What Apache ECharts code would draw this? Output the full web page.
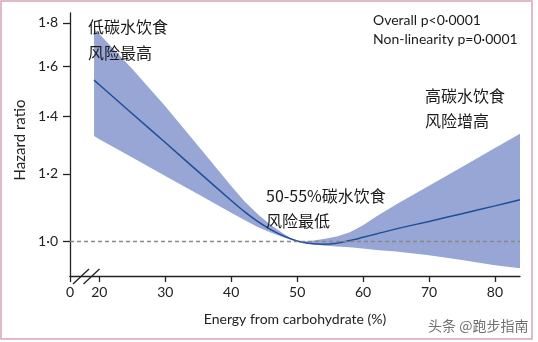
<!DOCTYPE html>
<html>
<head>
<meta charset="utf-8">
<script src="https://cdn.jsdelivr.net/npm/echarts@6/dist/echarts.min.js"></script>
<style>
html,body{margin:0;padding:0;background:#fff;}
#c{width:538px;height:342px;}
</style>
</head>
<body>
<div id="c"></div>
<script>
// ---- data ----
const carbX   = [19.2, 20, 25, 30, 35, 40, 42, 44, 46, 48, 50, 52, 54, 56, 58, 60, 62, 65, 70, 75, 80, 83.8];
const hrMid   = [1.543, 1.524, 1.410, 1.305, 1.207, 1.117, 1.084, 1.056, 1.033, 1.015, 1.002, 0.995, 0.993, 0.996, 1.003, 1.012, 1.021, 1.035, 1.056, 1.078, 1.101, 1.119];
const hrUpper = [1.770, 1.747, 1.590, 1.439, 1.293, 1.161, 1.115, 1.077, 1.046, 1.021, 1.000, 1.002, 1.007, 1.014, 1.026, 1.045, 1.070, 1.105, 1.162, 1.222, 1.286, 1.336];
const hrLower = [1.328, 1.317, 1.254, 1.193, 1.136, 1.081, 1.060, 1.040, 1.025, 1.011, 1.000, 0.994, 0.990, 0.987, 0.985, 0.982, 0.978, 0.974, 0.964, 0.952, 0.939, 0.931];
const xTicks  = [20, 30, 40, 50, 60, 70, 80];
const yTicks  = [1.0, 1.2, 1.4, 1.6, 1.8];
const xStartLabel = '0';
const refHR = 1.0;

const chart = echarts.init(document.getElementById('c'), null, {renderer: 'canvas'});
const X_MIN = 15.55, X_MAX = 83.8;
const latin = 'Lato, "Open Sans", sans-serif';
const cjk = '"Noto Sans CJK SC", sans-serif';
const axisColor = '#222';
const txt = '#1a1a1a';

function label(text, x, y, font, fill) {
  return {type: 'text', x: x, y: y, z: 100,
    style: {text: text, font: font, fill: fill || txt, textVerticalAlign: 'middle', verticalAlign: 'middle'}};
}

const option = {
  animation: false,
  backgroundColor: '#fff',
  grid: {left: 70, right: 18, top: 13, bottom: 66, containLabel: false},
  xAxis: {
    type: 'value', min: X_MIN, max: X_MAX,
    splitLine: {show: false},
    axisLine: {lineStyle: {color: axisColor, width: 1.3}},
    axisTick: {show: true, length: 6, lineStyle: {color: axisColor, width: 1.3}, customValues: [X_MIN].concat(xTicks)},
    axisLabel: {
      customValues: [X_MIN].concat(xTicks),
      margin: 9, color: '#222', fontSize: 14, fontFamily: latin,
      formatter: v => (v < xTicks[0] - 1 ? xStartLabel : String(Math.round(v)))
    },
    name: 'Energy from carbohydrate (%)', nameLocation: 'middle', nameGap: 36,
    nameTextStyle: {color: '#222', fontSize: 14, fontFamily: latin}
  },
  yAxis: {
    type: 'log', logBase: 10, min: 0.912, max: 1.848,
    splitLine: {show: false},
    axisLine: {show: true, lineStyle: {color: axisColor, width: 1.3}},
    axisTick: {show: true, length: 7, lineStyle: {color: axisColor, width: 1.3}, customValues: yTicks},
    axisLabel: {
      customValues: yTicks,
      margin: 12, color: '#222', fontSize: 14, fontFamily: latin,
      formatter: v => Number(v).toFixed(1).replace('.', '·')
    }
  },
  series: [
    {
      type: 'custom', silent: true, z: 1,
      data: [[carbX[0], hrMid[0]]],
      renderItem: function (params, api) {
        const pts = [];
        for (let i = 0; i < carbX.length; i++) pts.push(api.coord([carbX[i], hrUpper[i]]));
        for (let i = carbX.length - 1; i >= 0; i--) pts.push(api.coord([carbX[i], hrLower[i]]));
        return {type: 'polygon', shape: {points: pts}, style: {fill: '#97a6d5'}};
      }
    },
    {
      type: 'line', z: 3, symbol: 'none', smooth: 0.2,
      data: carbX.map((x, i) => [x, hrMid[i]]),
      lineStyle: {color: '#1f4e98', width: 1.5},
      markLine: {
        silent: true, symbol: 'none', label: {show: false},
        lineStyle: {color: '#888', type: [4, 3], width: 1.3},
        data: [{yAxis: refHR}]
      }
    }
  ],
  graphic: [
    {type: 'rect', shape: {x: 1, y: 1, width: 531, height: 338}, style: {fill: 'none', stroke: '#d7a3bb', lineWidth: 1.5}, silent: true},
    {type: 'line', shape: {x1: 73, y1: 284, x2: 89, y2: 269}, style: {stroke: axisColor, lineWidth: 1.3}},
    {type: 'line', shape: {x1: 83.5, y1: 284, x2: 99.5, y2: 269}, style: {stroke: axisColor, lineWidth: 1.3}},
    {type: 'text', x: 20, y: 140, rotation: Math.PI / 2, z: 100,
      style: {text: 'Hazard ratio', font: '15px ' + latin, fill: '#222', align: 'center', verticalAlign: 'middle'}},
    label('低碳水饮食', 88, 27, '16px ' + cjk),
    label('风险最高', 88, 53, '16px ' + cjk),
    label('高碳水饮食', 425, 96, '16px ' + cjk),
    label('风险增高', 425, 121, '16px ' + cjk),
    label('50-55%碳水饮食', 266, 196, '16px ' + cjk),
    label('风险最低', 266, 221, '16px ' + cjk),
    label('Overall p<0·0001', 373, 20, '14px ' + latin),
    label('Non-linearity p=0·0001', 373, 39, '14px ' + latin),
    label('头条 @跑步指南', 428, 326, '14px ' + cjk, '#707070')
  ]
};
chart.setOption(option);
</script>
</body>
</html>
